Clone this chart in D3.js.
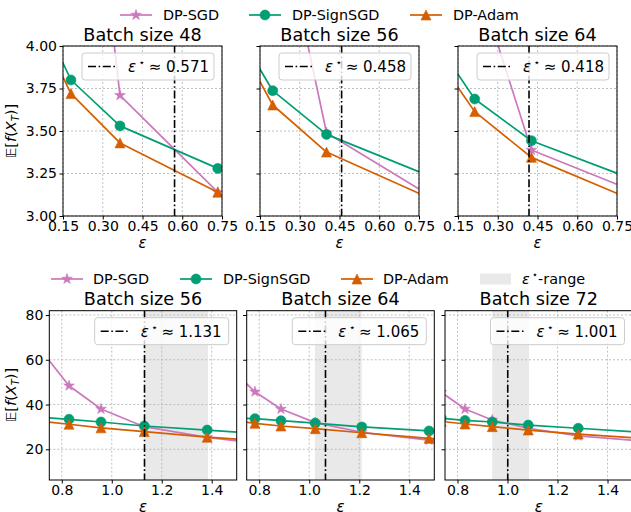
<!DOCTYPE html>
<html>
<head>
<meta charset="utf-8">
<script src="https://cdn.jsdelivr.net/npm/d3@7"></script>
<style>
  html, body { margin: 0; padding: 0; background: #fff; }
  svg { display: block; font-family: "DejaVu Sans", sans-serif; }
</style>
</head>
<body>
<svg id="fig" width="631" height="512"></svg>
<script>
// ---------- data ----------
const methods = ["DP-SGD", "DP-SignSGD", "DP-Adam"];
const colors = ["#cc78bc", "#029e73", "#d55e00"];
const markers = ["star", "circle", "triangle"];

// Top row: batch sizes 48 / 56 / 64
const topBatch = [48, 56, 64];
const topEpsStar = [0.571, 0.458, 0.418];
const topEps = [
  [0.090, 0.180, 0.365, 0.734],
  [0.099, 0.198, 0.401, 0.800],
  [0.106, 0.213, 0.427, 0.850]
];
const topSGD = [
  [9.00, 6.22, 3.71, 3.14],
  [7.00, 4.97, 3.49, 3.112],
  [6.00, 4.436, 3.388, 3.124]
];
const topSignSGD = [
  [4.10, 3.80, 3.53, 3.28],
  [3.997, 3.737, 3.48, 3.229],
  [3.936, 3.688, 3.443, 3.192]
];
const topAdam = [
  [4.01, 3.72, 3.43, 3.14],
  [3.935, 3.653, 3.376, 3.098],
  [3.854, 3.614, 3.345, 3.068]
];
const topXTicks = [0.15, 0.30, 0.45, 0.60, 0.75];
const topYTicks = [3.00, 3.25, 3.50, 3.75, 4.00];

// Bottom row: batch sizes 56 / 64 / 72
const botBatch = [56, 64, 72];
const botEpsStar = [1.131, 1.065, 1.001];
const botRange = [[1.130, 1.385], [1.023, 1.210], [0.939, 1.086]];
const botEps = [
  [0.730, 0.829, 0.957, 1.130, 1.382, 1.740],
  [0.700, 0.783, 0.887, 1.024, 1.210, 1.479, 1.850],
  [0.735, 0.830, 0.939, 1.083, 1.283, 1.570]
];
const botSGD = [
  [62.4, 48.4, 38.0, 30.1, 25.3, 20.8],
  [54.5, 45.7, 38.0, 31.9, 27.6, 24.1, 20.4],
  [45.5, 38.0, 33.1, 29.4, 26.0, 23.4]
];
const botSignSGD = [
  [34.2, 33.4, 32.2, 30.4, 28.6, 25.9],
  [33.9, 33.7, 32.8, 31.7, 30.0, 28.2, 25.2],
  [33.85, 32.9, 32.2, 30.8, 29.4, 27.4]
];
const botAdam = [
  [32.4, 31.2, 29.6, 27.9, 25.4, 22.7],
  [32.8, 31.6, 30.4, 29.2, 27.4, 24.9, 21.2],
  [32.5, 31.3, 30.1, 28.6, 26.8, 24.6]
];
const botXTicks = [0.8, 1.0, 1.2, 1.4];
const botYTicks = [20, 40, 60, 80];

// ---------- layout ----------
const svg = d3.select("#fig");
const FONT = "DejaVu Sans, sans-serif";
const TICK_FS = 14, TITLE_FS = 17.6, LEG_FS = 14.4, INLEG_FS = 15;

const topLayout = {
  xs: [[63, 222], [260, 419], [458, 617]], y: [46, 216],
  xDomain: [0.15, 0.75], yDomain: [3.0, 4.0],
  xFmt: d3.format(".2f"), yFmt: d3.format(".2f")
};
const botLayout = {
  xs: [[49.3, 236.7], [246.7, 434.3], [445, 632.5]], y: [310.7, 480],
  xDomain: [0.75, 1.5], yDomain: [6.28, 81.92],
  xFmt: d3.format(".1f"), yFmt: d3.format("d")
};

let clipId = 0;

function markerPath(type, m) {
  const r = m / 2;
  if (type === "circle") {
    const p = d3.path(); p.arc(0, 0, r, 0, 2 * Math.PI); p.closePath();
    return p.toString();
  }
  if (type === "triangle") {
    return `M0,${-r}L${r},${r}L${-r},${r}Z`;
  }
  // five-pointed star
  const outer = r * 1.12, inner = outer * 0.382;
  const pts = [];
  for (let i = 0; i < 10; i++) {
    const a = -Math.PI / 2 + i * Math.PI / 5;
    const rr = i % 2 === 0 ? outer : inner;
    pts.push([rr * Math.cos(a), rr * Math.sin(a)]);
  }
  return "M" + pts.map(p => p[0].toFixed(2) + "," + p[1].toFixed(2)).join("L") + "Z";
}
const MS = 10;

function drawPanel(L, i, opts) {
  const [px0, px1] = L.xs[i];
  const [py0, py1] = L.y;
  const x = d3.scaleLinear().domain(L.xDomain).range([px0, px1]);
  const y = d3.scaleLinear().domain(L.yDomain).range([py1, py0]);
  const g = svg.append("g");

  const cid = "clip" + (clipId++);
  svg.append("clipPath").attr("id", cid)
    .append("rect").attr("x", px0).attr("y", py0)
    .attr("width", px1 - px0).attr("height", py1 - py0);

  // shaded eps-star range
  if (opts.range) {
    g.append("rect").attr("clip-path", `url(#${cid})`)
      .attr("x", x(opts.range[0])).attr("y", py0)
      .attr("width", x(opts.range[1]) - x(opts.range[0]))
      .attr("height", py1 - py0)
      .attr("fill", "#d3d3d3").attr("fill-opacity", 0.5);
  }

  // grid
  const grid = g.append("g").attr("stroke", "#b0b0b0").attr("stroke-width", 0.8)
    .attr("stroke-dasharray", "2,2");
  opts.xTicks.forEach(t => grid.append("line")
    .attr("x1", x(t)).attr("x2", x(t)).attr("y1", py0).attr("y2", py1));
  opts.yTicks.forEach(t => grid.append("line")
    .attr("x1", px0).attr("x2", px1).attr("y1", y(t)).attr("y2", y(t)));

  // series
  const plot = g.append("g").attr("clip-path", `url(#${cid})`);
  const line = d3.line().x(d => x(d[0])).y(d => y(d[1]));
  opts.series.forEach((vals, k) => {
    const pts = opts.eps.map((e, j) => [e, vals[j]]);
    plot.append("path").datum(pts).attr("d", line)
      .attr("fill", "none").attr("stroke", colors[k]).attr("stroke-width", 1.7)
      .attr("stroke-linejoin", "round");
    plot.selectAll(null).data(pts).join("path")
      .attr("transform", d => `translate(${x(d[0])},${y(d[1])})`)
      .attr("d", markerPath(markers[k], MS))
      .attr("fill", colors[k]).attr("stroke", colors[k]).attr("stroke-width", 0.6);
  });

  // eps-star vertical line
  g.append("line")
    .attr("x1", x(opts.epsStar)).attr("x2", x(opts.epsStar))
    .attr("y1", py0).attr("y2", py1)
    .attr("stroke", "#000").attr("stroke-width", 1.6)
    .attr("stroke-dasharray", "8,2.6,1.6,2.6");

  // frame
  g.append("rect").attr("x", px0).attr("y", py0)
    .attr("width", px1 - px0).attr("height", py1 - py0)
    .attr("fill", "none").attr("stroke", "#000").attr("stroke-width", 1);

  // axes
  const xAxis = g.append("g").attr("transform", `translate(0,${py1})`)
    .call(d3.axisBottom(x).tickValues(opts.xTicks).tickFormat(L.xFmt)
      .tickSize(3.5).tickPadding(1.5).tickSizeOuter(0));
  const yAxis = g.append("g").attr("transform", `translate(${px0},0)`)
    .call(d3.axisLeft(y).tickValues(opts.yTicks)
      .tickFormat(opts.showY ? L.yFmt : "")
      .tickSize(3.5).tickPadding(2.5).tickSizeOuter(0));
  [xAxis, yAxis].forEach(a => {
    a.select(".domain").remove();
    a.attr("font-family", FONT).attr("font-size", TICK_FS);
    a.selectAll("line").attr("stroke", "#000").attr("stroke-width", 1);
    a.selectAll("text").attr("fill", "#000");
  });

  // title
  svg.append("text").attr("x", (px0 + px1) / 2).attr("y", opts.titleY)
    .attr("text-anchor", "middle").attr("font-size", TITLE_FS)
    .attr("fill", "#000").text("Batch size " + opts.batch);

  // x label
  svg.append("text").attr("x", (px0 + px1) / 2).attr("y", opts.xlabY)
    .attr("text-anchor", "middle").attr("font-size", 15)
    .attr("font-style", "italic").attr("fill", "#000").text("ε");

  // in-axes legend (upper right)
  const lg = svg.append("g");
  const boxW = opts.legW, boxH = 27;
  const bx = px1 - 8 - boxW, by = py0 + 7;
  lg.append("rect").attr("x", bx).attr("y", by).attr("width", boxW).attr("height", boxH)
    .attr("rx", 3).attr("fill", "#fff").attr("fill-opacity", 0.8)
    .attr("stroke", "#cccccc").attr("stroke-width", 1);
  lg.append("line").attr("x1", bx + 6).attr("x2", bx + 35)
    .attr("y1", by + boxH / 2).attr("y2", by + boxH / 2)
    .attr("stroke", "#000").attr("stroke-width", 1.6)
    .attr("stroke-dasharray", "8,2.6,1.6,2.6");
  const t = lg.append("text").attr("x", bx + 46).attr("y", by + boxH / 2 + 5.4)
    .attr("font-size", INLEG_FS).attr("fill", "#000");
  t.append("tspan").attr("font-style", "italic").text("ε");
  t.append("tspan").attr("font-size", INLEG_FS * 0.7).attr("dx", 2.5).attr("dy", -6).text("⋆");
  t.append("tspan").attr("dy", 6).attr("dx", 3.5).text("≈ " + d3.format(".3f")(opts.epsStar));
}

function yLabel(cx, cy) {
  const t = svg.append("text")
    .attr("transform", `translate(${cx},${cy}) rotate(-90)`)
    .attr("text-anchor", "middle").attr("font-size", 14.5).attr("fill", "#000");
  t.append("tspan").text("𝔼[");
  t.append("tspan").attr("font-style", "italic").text("f");
  t.append("tspan").text("(");
  t.append("tspan").attr("font-style", "italic").text("X");
  t.append("tspan").attr("font-style", "italic").attr("font-size", 10).attr("dy", 3).text("T");
  t.append("tspan").attr("dy", -3).text(")]");
}

function figLegend(cy, items) {
  items.forEach(it => {
    const g = svg.append("g");
    if (it.range) {
      g.append("rect").attr("x", it.x).attr("y", cy - 5.5).attr("width", 31).attr("height", 11)
        .attr("fill", "#d3d3d3").attr("fill-opacity", 0.5);
      const t = g.append("text").attr("x", it.tx).attr("y", cy + 5.2)
        .attr("font-size", LEG_FS).attr("fill", "#000");
      t.append("tspan").attr("font-style", "italic").text("ε");
      t.append("tspan").attr("font-size", LEG_FS * 0.7).attr("dx", 2).attr("dy", -6).text("⋆");
      t.append("tspan").attr("dy", 6).text("-range");
      return;
    }
    g.append("line").attr("x1", it.x).attr("x2", it.x + 32).attr("y1", cy).attr("y2", cy)
      .attr("stroke", colors[it.k]).attr("stroke-width", 1.7);
    g.append("path").attr("transform", `translate(${it.x + 16},${cy})`)
      .attr("d", markerPath(markers[it.k], MS)).attr("fill", colors[it.k])
      .attr("stroke", colors[it.k]).attr("stroke-width", 0.6);
    g.append("text").attr("x", it.tx).attr("y", cy + 5.2)
      .attr("font-size", LEG_FS).attr("fill", "#000").text(methods[it.k]);
  });
}

// ---------- top row ----------
figLegend(15, [
  { k: 0, x: 120, tx: 163 },
  { k: 1, x: 249, tx: 292 },
  { k: 2, x: 410, tx: 453 }
]);
topBatch.forEach((b, i) => drawPanel(topLayout, i, {
  batch: b, epsStar: topEpsStar[i], eps: topEps[i],
  series: [topSGD[i], topSignSGD[i], topAdam[i]],
  xTicks: topXTicks, yTicks: topYTicks, showY: i === 0,
  titleY: 41, xlabY: 247.5, legW: 132
}));
yLabel(16, 131);

// ---------- bottom row ----------
figLegend(279, [
  { k: 0, x: 51, tx: 93 },
  { k: 1, x: 180, tx: 223 },
  { k: 2, x: 341, tx: 383 },
  { range: true, x: 480, tx: 522 }
]);
botBatch.forEach((b, i) => drawPanel(botLayout, i, {
  batch: b, epsStar: botEpsStar[i], eps: botEps[i], range: botRange[i],
  series: [botSGD[i], botSignSGD[i], botAdam[i]],
  xTicks: botXTicks, yTicks: botYTicks, showY: i === 0,
  titleY: 305, xlabY: 511.5, legW: 134
}));
yLabel(16, 395);
</script>
</body>
</html>
